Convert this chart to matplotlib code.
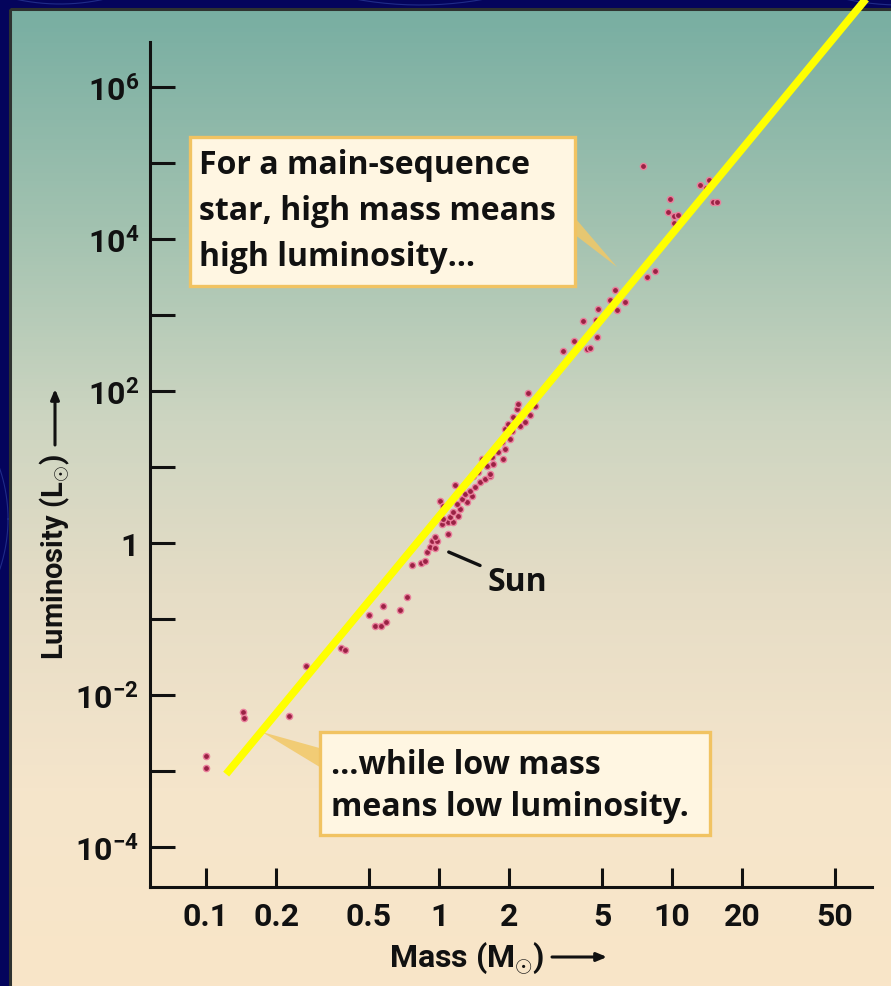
import numpy as np
import matplotlib
matplotlib.use("Agg")
import matplotlib.pyplot as plt
from matplotlib import font_manager
from matplotlib.colors import LinearSegmentedColormap
from matplotlib.patches import Rectangle, Polygon
from matplotlib.ticker import NullLocator

W, H = 891, 987

# main-sequence stars: mass and luminosity in solar units
mass = [0.10, 0.10, 0.144, 0.146, 0.227, 0.269, 0.38, 0.395, 0.50, 0.531,
        0.564, 0.593, 0.575, 0.68, 0.73, 0.766, 0.84, 0.87, 0.89, 0.91,
        0.96, 0.93, 0.98, 0.96, 1.09, 1.03, 1.09, 1.15, 1.04, 1.11,
        1.21, 1.15, 1.23, 1.19, 1.32, 1.26, 1.39, 1.29, 1.36, 1.43,
        1.17, 1.01, 1.04, 1.50, 1.57, 1.66, 1.40, 1.47, 1.66, 1.61,
        1.53, 1.71, 1.69, 1.88, 1.79, 1.92, 1.86, 2.02, 2.06, 1.92,
        1.98, 2.23, 2.08, 2.16, 2.18, 2.34, 2.46, 2.58, 2.41, 3.41,
        3.80, 4.32, 4.45, 4.76, 4.15, 4.72, 4.81, 5.81, 5.42, 6.29,
        5.69, 7.81, 8.45, 7.51, 9.8, 9.6, 10.2, 10.6, 10.2, 13.1,
        14.4, 13.9, 15.0, 15.6]
lum = [1.6e-3, 1.1e-3, 6.0e-3, 5.0e-3, 5.3e-3, 0.024, 0.042, 0.039, 0.113, 0.081,
       0.081, 0.091, 0.148, 0.13, 0.195, 0.51, 0.54, 0.58, 0.76, 0.89,
       0.86, 1.06, 1.06, 1.2, 1.31, 1.78, 1.89, 1.89, 2.07, 2.2,
       2.27, 2.56, 2.8, 3.26, 3.46, 3.79, 4.15, 4.42, 4.83, 5.46,
       5.8, 3.57, 3.07, 6.35, 6.95, 7.6, 7.6, 8.6, 8.1, 10.3,
       12.7, 10.9, 13.5, 12.7, 15.7, 17.3, 21.3, 23.4, 29.8, 31.7,
       36.8, 34.6, 45.5, 58, 67, 39, 48, 63, 94, 336,
       455, 357, 368, 514, 834, 859, 1200, 1164, 1575, 1483,
       2133, 3160, 3790, 91000, 33600, 22600, 20000, 20700, 16200, 51500,
       59700, 46900, 30700, 30700]

# mass-luminosity trend line (end points)
line_mass = [0.122, 68.0]
line_lum = [9.1e-4, 1.45e7]

x_ticks = [0.1, 0.2, 0.5, 1, 2, 5, 10, 20, 50]
x_labels = ['0.1', '0.2', '0.5', '1', '2', '5', '10', '20', '50']
y_major = [1e-4, 1e-2, 1, 1e2, 1e4, 1e6]
y_labels = [r'$\mathbf{10^{-4}}$', r'$\mathbf{10^{-2}}$', '1',
            r'$\mathbf{10^{2}}$', r'$\mathbf{10^{4}}$', r'$\mathbf{10^{6}}$']
y_minor = [1e-3, 1e-1, 1e1, 1e3, 1e5]

box_top = ['For a main-sequence', 'star, high mass means', 'high luminosity\u2026']
box_bottom = ['\u2026while low mass', 'means low luminosity.']

installed = {f.name for f in font_manager.fontManager.ttflist}


def pick(*names):
    for n in names:
        if n in installed:
            return n
    return 'DejaVu Sans'


tickfont = pick('Roboto', 'Lato')
body = pick('Open Sans', 'Lato')

plt.rcParams['font.family'] = [body, 'DejaVu Sans']
plt.rcParams['font.weight'] = 'bold'
plt.rcParams['mathtext.fontset'] = 'custom'
plt.rcParams['mathtext.rm'] = tickfont
plt.rcParams['mathtext.bf'] = tickfont + ':bold'
plt.rcParams['mathtext.it'] = tickfont + ':italic'
plt.rcParams['mathtext.fallback'] = 'cm'

INK = '#111111'

fig = plt.figure(figsize=(W / 100, H / 100), dpi=100)

# backdrop: navy frame + gradient panel, drawn in pixel coordinates
bg = fig.add_axes([0, 0, 1, 1], zorder=0)
bg.set_xlim(0, W)
bg.set_ylim(H, 0)
bg.axis('off')
bg.add_patch(Rectangle((0, 0), W, H, color='#04045c', zorder=0))
for cx, cy, r in [(60, -200, 205), (420, -350, 356), (900, -250, 256), (-150, 520, 158)]:
    t = np.linspace(0, 2 * np.pi, 400)
    bg.plot(cx + r * np.cos(t), cy + r * np.sin(t), color='#2b3c9c', lw=0.8,
            alpha=0.7, zorder=0.5)

grad = LinearSegmentedColormap.from_list('panel', [
    (0.0, '#78aea2'), (0.22, '#a2c2b0'), (0.42, '#cdd5c1'),
    (0.6, '#e6ddc6'), (0.8, '#f5e5cb'), (1.0, '#f9e5c8')])
bg.imshow(np.linspace(0, 1, 256)[:, None], cmap=grad, aspect='auto',
          extent=[10, W, H, 10], zorder=1)
bg.add_patch(Rectangle((10, 10), W, H, fill=False, ec='#2e3230', lw=2.2, zorder=2))

# callout boxes
bg.add_patch(Polygon([(570, 213), (570, 232), (617, 268)], closed=True,
                     fc='#f2c866', ec='none', alpha=0.85, zorder=3))
bg.add_patch(Rectangle((190, 138), 385, 149, fc='#fff6e2', ec='#f1c362', lw=2.4, zorder=4))
for i, s in enumerate(box_top):
    bg.text(199, 165 + i * 46, s, fontsize=23, fontweight='bold', color=INK,
            va='center', ha='left', zorder=5)

bg.add_patch(Polygon([(323, 750), (323, 770), (262, 733)], closed=True,
                     fc='#f2c866', ec='none', alpha=0.85, zorder=3))
bg.add_patch(Rectangle((320, 733), 390, 103, fc='#fff6e2', ec='#f1c362', lw=2.4, zorder=4))
for i, s in enumerate(box_bottom):
    bg.text(331, 765 + i * 42, s, fontsize=23, fontweight='bold', color=INK,
            va='center', ha='left', zorder=5)

# axis titles with long arrows
bg.text(545, 958, r'Mass (M$_{\odot}$)', ha='right', va='center', fontsize=23,
        fontweight='bold', color=INK, family=[tickfont, 'DejaVu Sans'])
bg.annotate('', xy=(607, 958), xytext=(552, 958),
            arrowprops=dict(arrowstyle='-|>,head_length=0.6,head_width=0.25',
                            lw=2.2, color=INK, shrinkA=0, shrinkB=0))
bg.text(55, 557, r'Luminosity (L$_{\odot}$)', rotation=90, ha='center', va='center',
        fontsize=21, fontweight='bold', color=INK, family=[tickfont, 'DejaVu Sans'])
bg.annotate('', xy=(55, 390), xytext=(55, 446),
            arrowprops=dict(arrowstyle='-|>,head_length=0.6,head_width=0.25',
                            lw=2.2, color=INK, shrinkA=0, shrinkB=0))

# data axes
ax = fig.add_axes([150 / W, 1 - 888 / H, 722 / W, (888 - 43) / H], zorder=2)
ax.set_facecolor('none')
ax.set_xscale('log')
ax.set_yscale('log')
ax.set_xlim(0.0575, 72)
ax.set_ylim(2.98e-5, 3.9e6)

ax.scatter(mass, lum, s=20, c='#9a2244', edgecolors='#ea7f9c', linewidths=1.0, zorder=3)
ax.plot(line_mass, line_lum, color='#ffff00', lw=5.5, solid_capstyle='butt',
        clip_on=False, zorder=4)

ax.annotate('Sun', xy=(1.1, 0.76), xytext=(1.62, 0.31), textcoords='data',
            ha='left', va='center', fontsize=23, fontweight='bold', color=INK,
            arrowprops=dict(arrowstyle='-', lw=2.4, color=INK, shrinkA=4, shrinkB=0))

for side in ['top', 'right']:
    ax.spines[side].set_visible(False)
for side in ['left', 'bottom']:
    ax.spines[side].set_linewidth(2.2)
    ax.spines[side].set_color(INK)

ax.set_xticks(x_ticks, x_labels)
ax.xaxis.set_minor_locator(NullLocator())
ax.set_yticks(y_major, y_labels)
ax.set_yticks(y_minor, minor=True)
ax.yaxis.set_minor_formatter(plt.NullFormatter())
ax.tick_params(axis='x', which='major', direction='in', length=14, width=2.2,
               pad=10, labelsize=23, color=INK)
ax.tick_params(axis='y', which='both', direction='in', length=18, width=2.2,
               pad=8, labelsize=23, color=INK)
for lab in ax.get_xticklabels() + ax.get_yticklabels():
    lab.set_fontfamily([tickfont, 'DejaVu Sans'])
    lab.set_fontweight('bold')
    lab.set_color(INK)

fig.savefig('out.png', dpi=100)
